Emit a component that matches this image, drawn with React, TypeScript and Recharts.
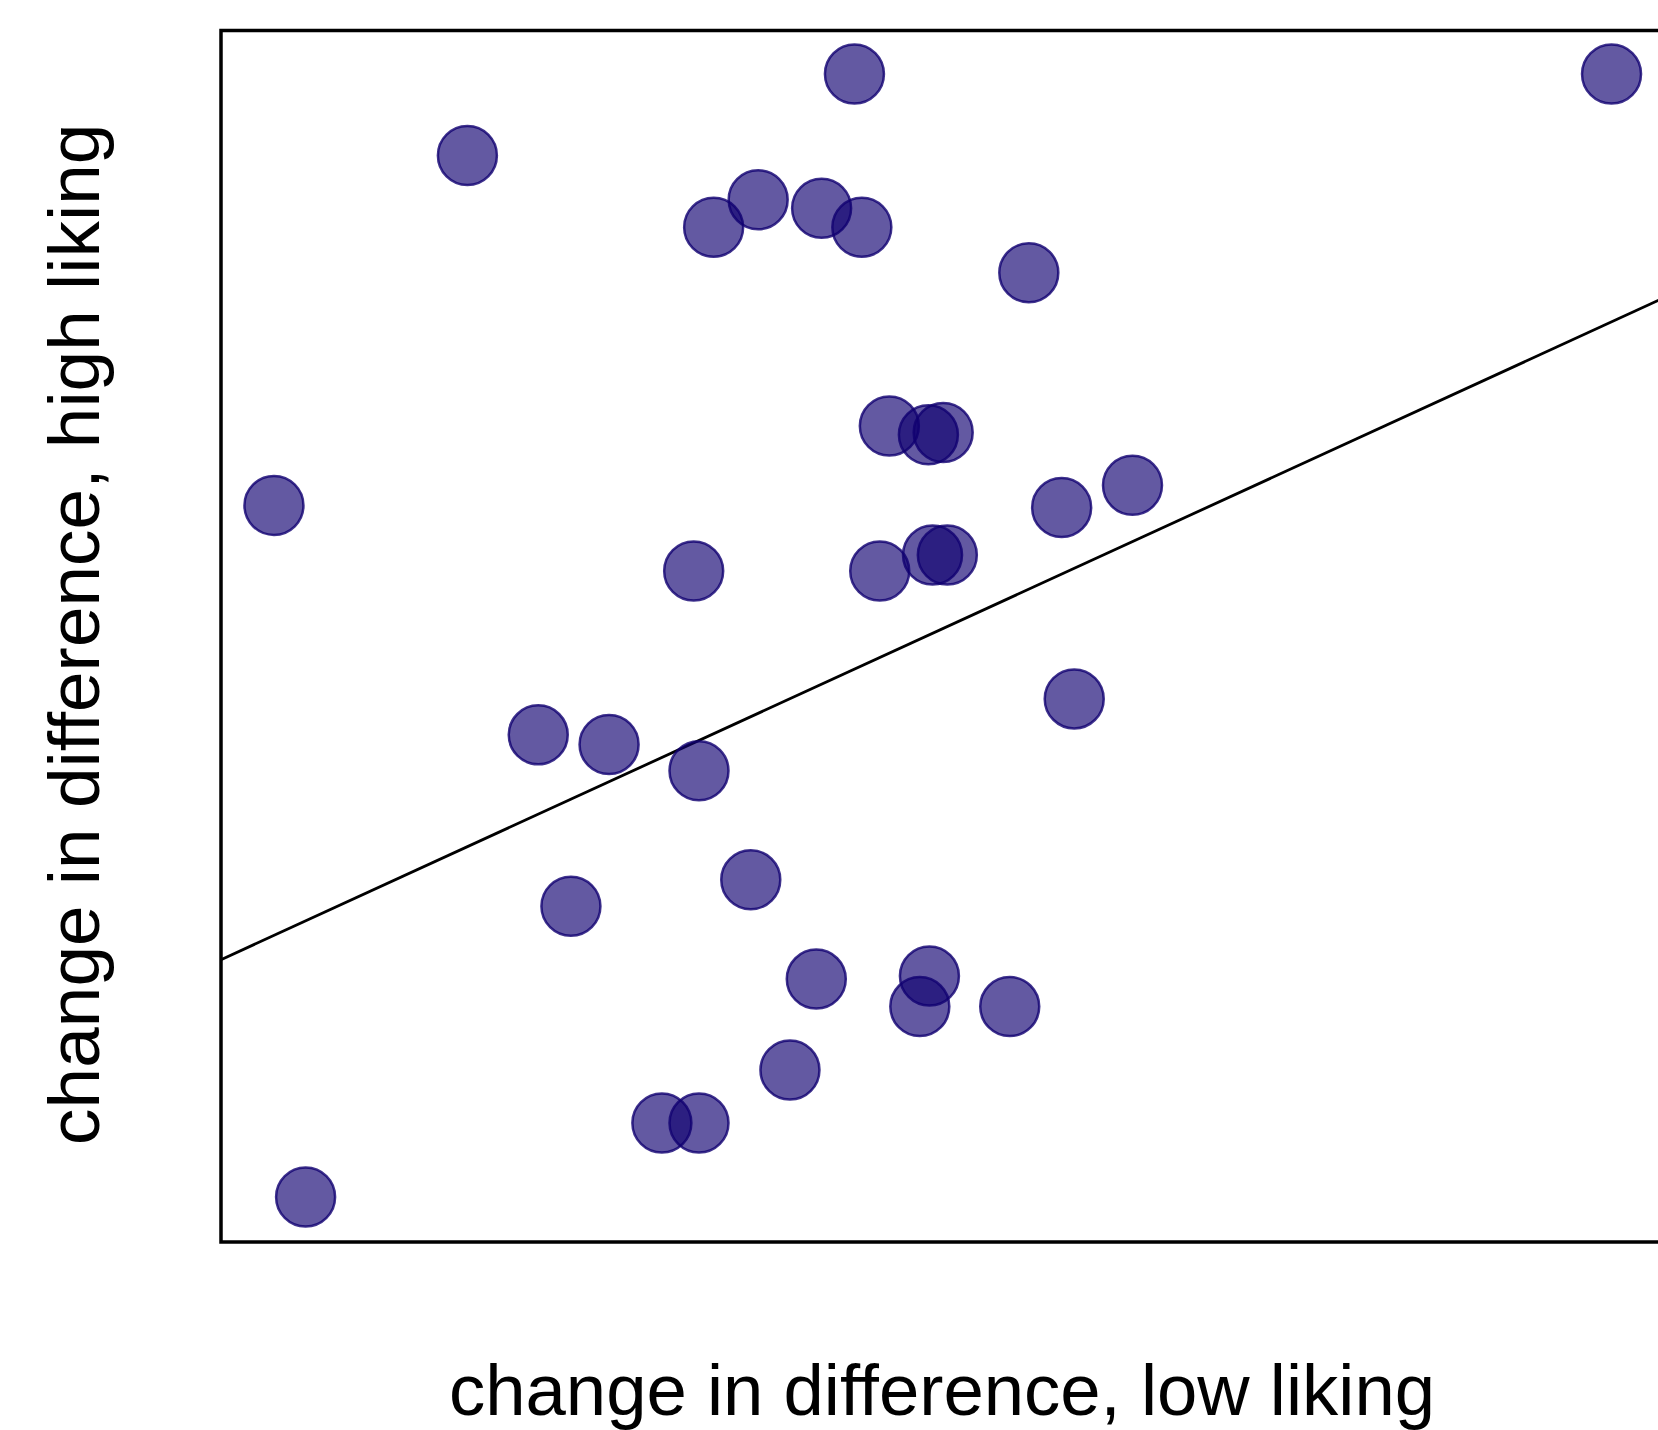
import React from "react";
import {
  ScatterChart,
  Scatter,
  XAxis,
  YAxis,
  ReferenceArea,
  ReferenceLine,
  Label,
} from "recharts";

// change in difference, low liking (x) / high liking (y) — arbitrary units
const xLow: number[] = [
  42.83, 94.02, 16.66, 36.32, 33.31, 40.61, 43.33, 54.62, 45.19, 47.83, 48.83,
  3.58, 61.63, 56.84, 31.96, 44.54, 48.11, 49.11, 57.69, 21.45, 26.24, 32.32,
  35.82, 23.66, 40.25, 47.9, 47.25, 53.33, 38.47, 29.81, 32.32, 5.72,
];
const yHigh: number[] = [
  96.41, 96.41, 89.69, 86.03, 83.76, 85.32, 83.76, 80.0, 67.35, 66.64, 66.82,
  60.8, 62.46, 60.62, 55.39, 55.39, 56.7, 56.7, 44.83, 41.86, 41.07, 38.89,
  29.9, 27.72, 21.7, 21.96, 19.43, 19.43, 14.19, 9.82, 9.82, 3.71,
];

// fitted regression line endpoints
const fitX: number[] = [0, 97.5];
const fitY: number[] = [23.3, 77.9];

const xDomain: [number, number] = [0, 97.5];
const yDomain: [number, number] = [0, 100];

const xLabel = "change in difference, low liking";
const yLabel = "change in difference, high liking";

const points = xLow.map((x, i) => ({ x, y: yHigh[i] }));

const FONT = "'Liberation Sans', Arial, Helvetica, sans-serif";

const Dot = (props: any) => {
  const { cx, cy } = props;
  if (cx == null || cy == null) return null;
  return (
    <circle
      cx={cx}
      cy={cy}
      r={29.5}
      fill="#100070"
      fillOpacity={0.65}
      stroke="#100070"
      strokeOpacity={0.8}
      strokeWidth={2.5}
    />
  );
};

const YLabelContent = (props: any) => {
  const vb = props.viewBox || {};
  const cx = vb.x + 99;
  const cy = vb.y + vb.height / 2 - 2;
  return (
    <text
      x={cx}
      y={cy}
      transform={`rotate(-90, ${cx}, ${cy})`}
      textAnchor="middle"
      fontFamily={FONT}
      fontSize={73}
      fill="#000"
    >
      {yLabel}
    </text>
  );
};

const XLabelContent = (props: any) => {
  const vb = props.viewBox || {};
  const cx = vb.x + vb.width / 2;
  const cy = vb.y + vb.height - 15;
  return (
    <text
      x={cx}
      y={cy}
      textAnchor="middle"
      fontFamily={FONT}
      fontSize={72.5}
      fill="#000"
    >
      {xLabel}
    </text>
  );
};

export default function App() {
  return (
    <div
      style={{
        position: "absolute",
        left: 0,
        top: 0,
        width: 1658,
        height: 1430,
        overflow: "hidden",
        background: "#fff",
      }}
    >
      <ScatterChart
        width={1700}
        height={1430}
        margin={{ top: 30.5, right: 37, bottom: 0, left: 0 }}
      >
        <XAxis
          type="number"
          dataKey="x"
          domain={xDomain}
          allowDataOverflow
          height={188}
          tick={false}
          tickLine={false}
          axisLine={false}
        >
          <Label content={<XLabelContent />} />
        </XAxis>
        <YAxis
          type="number"
          dataKey="y"
          domain={yDomain}
          allowDataOverflow
          width={221}
          tick={false}
          tickLine={false}
          axisLine={false}
        >
          <Label content={<YLabelContent />} />
        </YAxis>
        <ReferenceArea
          x1={xDomain[0]}
          x2={xDomain[1]}
          y1={yDomain[0]}
          y2={yDomain[1]}
          fill="none"
          fillOpacity={0}
          stroke="#000"
          strokeWidth={3.5}
        />
        <ReferenceLine
          segment={[
            { x: fitX[0], y: fitY[0] },
            { x: fitX[1], y: fitY[1] },
          ]}
          stroke="#000"
          strokeWidth={2.8}
        />
        <Scatter data={points} shape={<Dot />} isAnimationActive={false} />
      </ScatterChart>
    </div>
  );
}
